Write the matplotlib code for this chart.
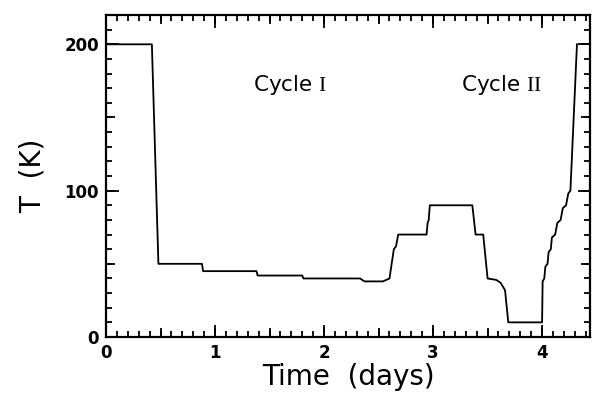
import matplotlib
matplotlib.use('Agg')
import matplotlib.pyplot as plt
from matplotlib.ticker import MultipleLocator, NullFormatter, NullLocator

plt.rcParams['font.family'] = ['DejaVu Sans']
plt.rcParams['mathtext.fontset'] = 'custom'
plt.rcParams['mathtext.rm'] = 'Liberation Serif'

# temperature programme over the two cycles
time_days = [0.00, 0.42, 0.48, 0.88, 0.89, 1.38, 1.39, 1.80, 1.81, 2.33, 2.37,
             2.54, 2.60, 2.62, 2.64, 2.66, 2.68, 2.94, 2.95, 2.96, 2.97, 3.36,
             3.39, 3.46, 3.50, 3.58, 3.62, 3.66, 3.69, 4.00, 4.005, 4.02, 4.03,
             4.05, 4.06, 4.08, 4.09, 4.12, 4.14, 4.17, 4.19, 4.22, 4.24, 4.26, 4.32]
temp_K = [200, 200, 50, 50, 45, 45, 42, 42, 40, 40, 38,
          38, 40, 50, 60, 62, 70, 70, 78, 80, 90, 90,
          70, 70, 40, 39, 37, 32, 10, 10, 38, 40, 48,
          50, 58, 60, 68, 70, 78, 80, 88, 90, 98, 100, 200]

cycle_labels = [r'Cycle $\mathrm{I}$', r'Cycle $\mathrm{II}$']
cycle_x = [1.69, 3.63]
cycle_y = [172, 172]

xlim = (0, 4.44)
ylim = (0, 220)

fig = plt.figure(figsize=(5.96, 3.96), dpi=100)
ax = fig.add_axes([0.178, 0.149, 0.812, 0.813])

ax.plot(time_days, temp_K, color='black', lw=1.3)
for lab, x, y in zip(cycle_labels, cycle_x, cycle_y):
    ax.text(x, y, lab, fontsize=15.5, ha='center', va='center')

ax.set_xlim(*xlim)
ax.set_ylim(*ylim)
ax.xaxis.set_major_locator(MultipleLocator(1))
ax.xaxis.set_minor_locator(MultipleLocator(0.1))
ax.yaxis.set_major_locator(MultipleLocator(100))
ax.yaxis.set_minor_locator(MultipleLocator(10))
ax.tick_params(which='both', direction='in', top=True, right=True, width=1.3)
ax.tick_params(which='major', length=9, labelsize=12, pad=5)
ax.tick_params(which='minor', length=4.5)
for lbl in ax.get_xticklabels() + ax.get_yticklabels():
    lbl.set_fontweight('bold')
for s in ax.spines.values():
    s.set_linewidth(1.6)

# medium ticks at the half steps, on an overlay with the same limits
ax2 = fig.add_axes(ax.get_position(), frameon=False)
ax2.patch.set_visible(False)
ax2.set_xlim(*xlim)
ax2.set_ylim(*ylim)
ax2.xaxis.set_major_locator(MultipleLocator(0.5))
ax2.yaxis.set_major_locator(MultipleLocator(50))
ax2.xaxis.set_minor_locator(NullLocator())
ax2.yaxis.set_minor_locator(NullLocator())
ax2.xaxis.set_major_formatter(NullFormatter())
ax2.yaxis.set_major_formatter(NullFormatter())
ax2.tick_params(which='major', direction='in', top=True, right=True,
                length=6.5, width=1.3)

ax.set_xlabel('Time  (days)', fontsize=20, labelpad=1)
ax.set_ylabel('T  (K)', fontsize=20, labelpad=13)

fig.savefig('out.png', dpi=100)
